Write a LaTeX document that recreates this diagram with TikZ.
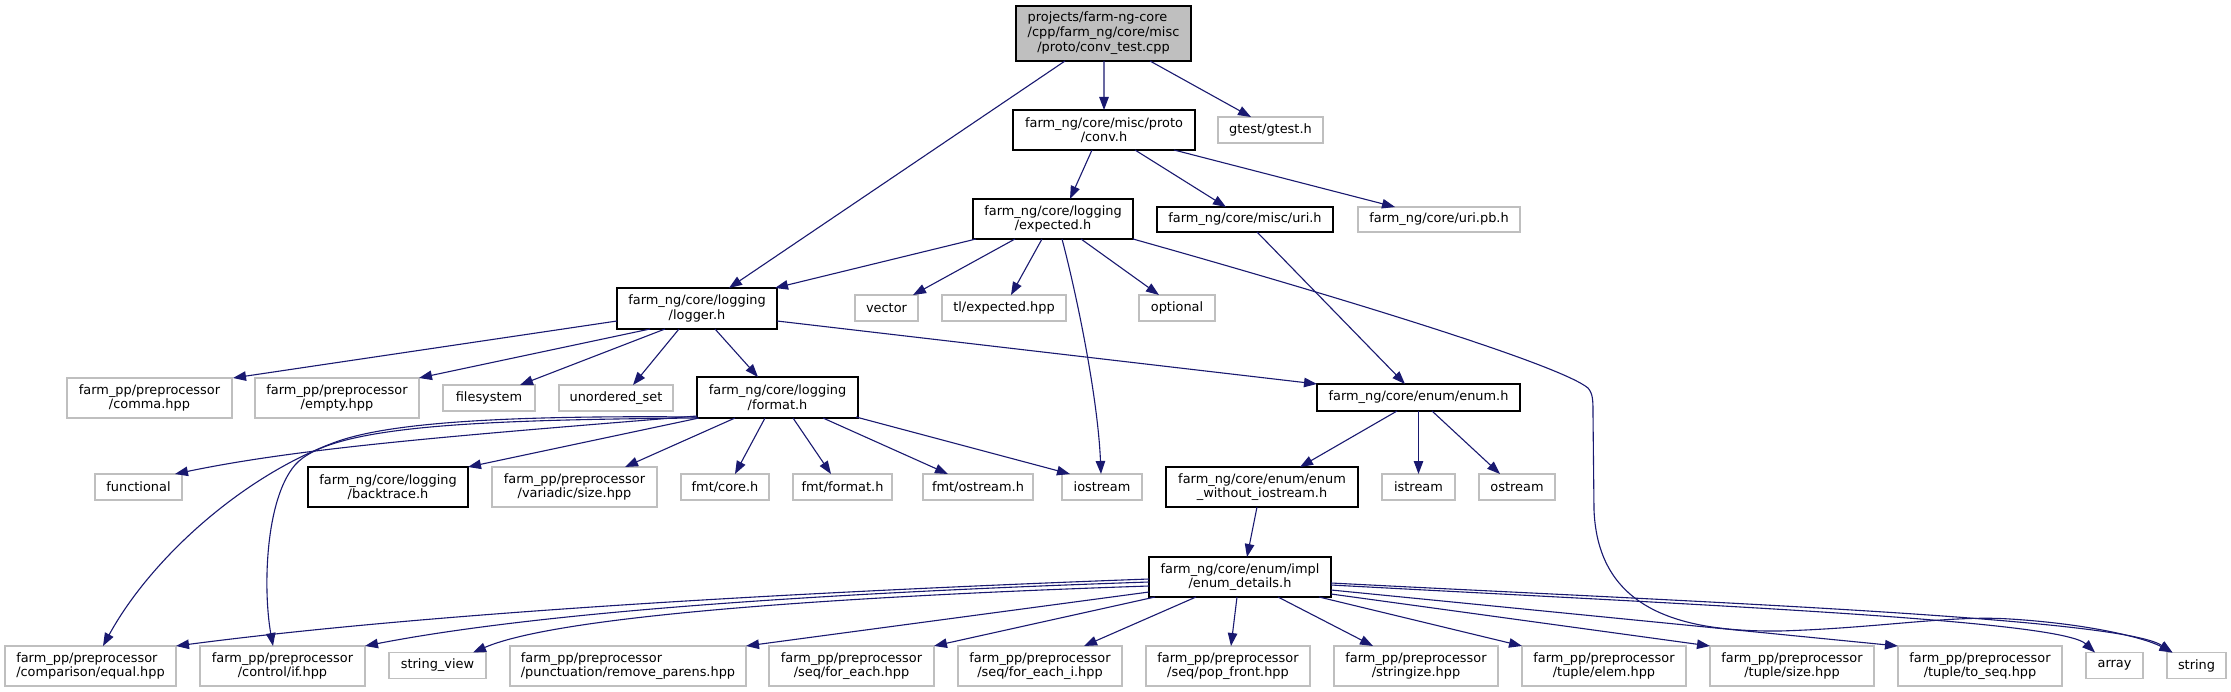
\documentclass[tikz,border=0pt]{standalone}
\usepackage{fontspec}
\setmainfont{DejaVu Sans}
\usetikzlibrary{arrows.meta}
\definecolor{edgeblue}{RGB}{25,25,112}
\definecolor{gryb}{RGB}{191,191,191}
\begin{document}
\begin{tikzpicture}[x=1bp,y=-1bp,
  every node/.style={font=\fontsize{12.9bp}{14.6bp}\selectfont, inner sep=0pt, outer sep=0pt, rectangle, align=center},
  ext/.style={draw=gryb, line width=1.1bp, fill=white},
  doc/.style={draw=black, line width=1.1bp, fill=white},
  rootbox/.style={draw=black, line width=1.1bp, fill=gryb},
  two/.style={minimum height=40bp},
  one/.style={minimum height=26bp},
  e/.style={draw=edgeblue, line width=1.1bp, -{Triangle[length=13bp,width=9.5bp]}},
]
\useasboundingbox (0,0) rectangle (2231,692);
\fill[white] (0,0) rectangle (2231,692);

% ---- nodes
\node[rootbox, minimum width=175bp, minimum height=55bp] (root) at (1103.5,33.5)
  {\begin{tabular}{@{}l@{}}projects/farm-ng-core\\/cpp/farm\_ng/core/misc\\\multicolumn{1}{@{}c@{}}{/proto/conv\_test.cpp}\end{tabular}};
\node[doc, two, minimum width=182bp] (conv) at (1104,130) {farm\_ng/core/misc/proto\\/conv.h};
\node[ext, one, minimum width=105bp] (gtest) at (1270.5,130) {gtest/gtest.h};
\node[doc, two, minimum width=160bp] (expected) at (1053,219) {farm\_ng/core/logging\\/expected.h};
\node[doc, minimum height=25bp, minimum width=176bp] (uri) at (1245,219.5) {farm\_ng/core/misc/uri.h};
\node[ext, minimum height=25bp, minimum width=162bp] (uripb) at (1439,219.5) {farm\_ng/core/uri.pb.h};
\node[doc, minimum height=41bp, minimum width=160bp] (logger) at (697,308.5) {farm\_ng/core/logging\\/logger.h};
\node[ext, one, minimum width=63bp] (vector) at (886.5,308) {vector};
\node[ext, one, minimum width=124bp] (tlexp) at (1004,308) {tl/expected.hpp};
\node[ext, one, minimum width=76bp] (optional) at (1177,308) {optional};
\node[ext, two, minimum width=165bp] (comma) at (149.5,398) {farm\_pp/preprocessor\\/comma.hpp};
\node[ext, two, minimum width=164bp] (empty) at (337,398) {farm\_pp/preprocessor\\/empty.hpp};
\node[ext, one, minimum width=92bp] (filesystem) at (489,398) {filesystem};
\node[ext, one, minimum width=114bp] (unordered) at (616,398) {unordered\_set};
\node[doc, minimum height=41bp, minimum width=161bp] (format) at (777.5,397.5) {farm\_ng/core/logging\\/format.h};
\node[doc, minimum height=27bp, minimum width=203bp] (enum) at (1418.5,397.5) {farm\_ng/core/enum/enum.h};
\node[ext, one, minimum width=87bp] (functional) at (138.5,487) {functional};
\node[doc, two, minimum width=160bp] (backtrace) at (388,487) {farm\_ng/core/logging\\/backtrace.h};
\node[ext, two, minimum width=165bp] (variadic) at (574.5,487) {farm\_pp/preprocessor\\/variadic/size.hpp};
\node[ext, one, minimum width=88bp] (fmtcore) at (725,487) {fmt/core.h};
\node[ext, one, minimum width=99bp] (fmtformat) at (842.5,487) {fmt/format.h};
\node[ext, one, minimum width=110bp] (fmtostream) at (978,487) {fmt/ostream.h};
\node[ext, one, minimum width=80bp] (iostream) at (1102,487) {iostream};
\node[doc, two, minimum width=192bp] (enumwo) at (1262,487) {farm\_ng/core/enum/enum\\\_without\_iostream.h};
\node[ext, one, minimum width=73bp] (istream) at (1418.5,487) {istream};
\node[ext, one, minimum width=76bp] (ostream) at (1517,487) {ostream};
\node[doc, two, minimum width=182bp] (details) at (1240,577) {farm\_ng/core/enum/impl\\/enum\_details.h};
\node[ext, two, minimum width=171bp, align=left] (equal) at (90.5,666) {farm\_pp/preprocessor\\/comparison/equal.hpp};
\node[ext, two, minimum width=165bp] (ifh) at (282.5,666) {farm\_pp/preprocessor\\/control/if.hpp};
\node[ext, one, minimum width=97bp] (stringview) at (437.5,665.5) {string\_view};
\node[ext, two, minimum width=236bp, align=left] (removep) at (628,666) {farm\_pp/preprocessor\\/punctuation/remove\_parens.hpp};
\node[ext, two, minimum width=165bp] (foreach) at (851.5,666) {farm\_pp/preprocessor\\/seq/for\_each.hpp};
\node[ext, two, minimum width=164bp] (foreachi) at (1040,666) {farm\_pp/preprocessor\\/seq/for\_each\_i.hpp};
\node[ext, two, minimum width=164bp] (popfront) at (1228,666) {farm\_pp/preprocessor\\/seq/pop\_front.hpp};
\node[ext, two, minimum width=164bp] (stringize) at (1416,666) {farm\_pp/preprocessor\\/stringize.hpp};
\node[ext, two, minimum width=164bp] (elem) at (1604,666) {farm\_pp/preprocessor\\/tuple/elem.hpp};
\node[ext, two, minimum width=164bp] (tsize) at (1792,666) {farm\_pp/preprocessor\\/tuple/size.hpp};
\node[ext, two, minimum width=164bp] (toseq) at (1980,666) {farm\_pp/preprocessor\\/tuple/to\_seq.hpp};
\node[ext, one, minimum width=57bp] (array) at (2114.5,665.5) {array};
\node[ext, one, minimum width=59bp] (string) at (2196.5,665.5) {string};

% ---- edges
\path[e] ([shift={(-38.5,27.5)}]root.center) -- ([shift={(32,-20.5)}]logger.center);
\path[e] ([shift={(0.5,27.5)}]root.center) -- ([shift={(0,-20)}]conv.center);
\path[e] ([shift={(46.5,27.5)}]root.center) -- ([shift={(-19.5,-13)}]gtest.center);

\path[e] ([shift={(-12,20)}]conv.center) -- ([shift={(17,-20)}]expected.center);
\path[e] ([shift={(31,20)}]conv.center) -- ([shift={(-19,-12.5)}]uri.center);
\path[e] ([shift={(70,20)}]conv.center) -- ([shift={(-44,-12.5)}]uripb.center);

\path[e] ([shift={(-77,20)}]expected.center) -- ([shift={(78,-20.5)}]logger.center);
\path[e] ([shift={(-38,20)}]expected.center) -- ([shift={(26.5,-13)}]vector.center);
\path[e] ([shift={(-11,20)}]expected.center) -- ([shift={(7,-13)}]tlexp.center);
\path[e] ([shift={(9,20)}]expected.center) .. controls (1078,300) and (1098,400) .. ([shift={(-1,-13)}]iostream.center);
\path[e] ([shift={(28,20)}]expected.center) -- ([shift={(-18,-13)}]optional.center);
\path[e] ([shift={(80,20)}]expected.center) .. controls (1350,300) and (1560,365) .. (1588,388)
   .. controls (1593,394) and (1593,400) .. (1593,415) -- (1594,510)
   .. controls (1598,610) and (1680,632) .. (1780,631)
   .. controls (1880,628) and (1950,615) .. (2010,619)
   .. controls (2090,624) and (2145,638) .. ([shift={(-24,-13)}]string.center);

\path[e] ([shift={(12,12.5)}]uri.center) -- ([shift={(-13.5,-13.5)}]enum.center);

\path[e] ([shift={(-80,12.5)}]logger.center) -- ([shift={(83.5,-20)}]comma.center);
\path[e] ([shift={(-47,20.5)}]logger.center) -- ([shift={(82,-20)}]empty.center);
\path[e] ([shift={(-32,20.5)}]logger.center) -- ([shift={(31,-13)}]filesystem.center);
\path[e] ([shift={(-18,20.5)}]logger.center) -- ([shift={(17,-13)}]unordered.center);
\path[e] ([shift={(18,20.5)}]logger.center) -- ([shift={(-19.5,-20.5)}]format.center);
\path[e] ([shift={(80,12.5)}]logger.center) -- ([shift={(-101.5,-13.5)}]enum.center);

\path[e] ([shift={(-80.5,18.5)}]format.center) .. controls (450,436) and (300,448) .. ([shift={(36.5,-13)}]functional.center);
\path[e] ([shift={(-78.5,20.5)}]format.center) -- ([shift={(80,-20)}]backtrace.center);
\path[e] ([shift={(-42.5,20.5)}]format.center) -- ([shift={(50.5,-20)}]variadic.center);
\path[e] ([shift={(-12.5,20.5)}]format.center) -- ([shift={(10,-13)}]fmtcore.center);
\path[e] ([shift={(15.5,20.5)}]format.center) -- ([shift={(-11.5,-13)}]fmtformat.center);
\path[e] ([shift={(45.5,20.5)}]format.center) -- ([shift={(-30,-13)}]fmtostream.center);
\path[e] ([shift={(78.5,19.5)}]format.center) -- ([shift={(-32,-13)}]iostream.center);
\path[e] ([shift={(-80.5,19.5)}]format.center) .. controls (480,415) and (380,425) .. (333,443)
   .. controls (240,478) and (150,560) .. ([shift={(12.5,-20)}]equal.center);
\path[e] ([shift={(-80.5,20.5)}]format.center) .. controls (480,420) and (330,425) .. (295,465)
   .. controls (265,500) and (263,590) .. ([shift={(-9.5,-20)}]ifh.center);

\path[e] ([shift={(-21.5,13.5)}]enum.center) -- ([shift={(38,-20)}]enumwo.center);
\path[e] ([shift={(0,13.5)}]enum.center) -- ([shift={(0,-13)}]istream.center);
\path[e] ([shift={(13.5,13.5)}]enum.center) -- ([shift={(-17,-13)}]ostream.center);

\path[e] ([shift={(-5,20)}]enumwo.center) -- ([shift={(7,-20)}]details.center);

\path[e] ([shift={(-91,2)}]details.center) .. controls (850,590) and (450,610) .. ([shift={(85.5,-20)}]equal.center);
\path[e] ([shift={(-91,5)}]details.center) .. controls (850,592) and (550,610) .. ([shift={(82.5,-20)}]ifh.center);
\path[e] ([shift={(-91,9)}]details.center) .. controls (850,596) and (560,615) .. ([shift={(35.5,-13)}]stringview.center);
\path[e] ([shift={(-91,15)}]details.center) -- ([shift={(118,-20)}]removep.center);
\path[e] ([shift={(-85,20)}]details.center) -- ([shift={(82.5,-20)}]foreach.center);
\path[e] ([shift={(-44,20)}]details.center) -- ([shift={(44,-20)}]foreachi.center);
\path[e] ([shift={(-3,20)}]details.center) -- ([shift={(3,-20)}]popfront.center);
\path[e] ([shift={(38,20)}]details.center) -- ([shift={(-43,-20)}]stringize.center);
\path[e] ([shift={(79,20)}]details.center) -- ([shift={(-82,-20)}]elem.center);
\path[e] ([shift={(91,17)}]details.center) -- ([shift={(-82,-20)}]tsize.center);
\path[e] ([shift={(91,13)}]details.center) -- ([shift={(-82,-20)}]toseq.center);
\path[e] ([shift={(91,8)}]details.center) .. controls (1700,605) and (2060,620) .. ([shift={(-19.5,-13)}]array.center);
\path[e] ([shift={(91,6)}]details.center) .. controls (1700,602) and (2120,618) .. ([shift={(-24,-13)}]string.center);
\end{tikzpicture}
\end{document}
